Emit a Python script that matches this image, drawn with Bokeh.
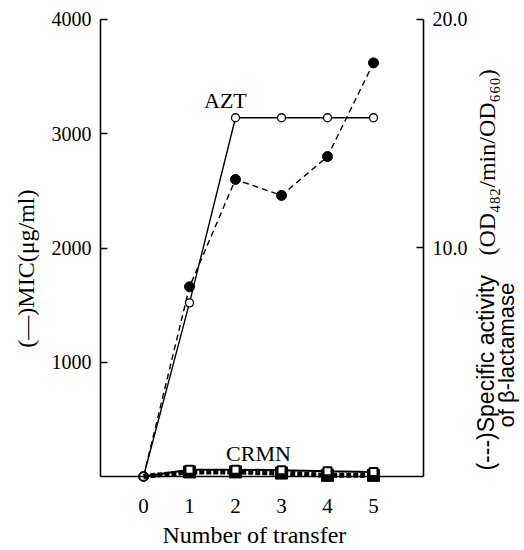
import math
from bokeh.plotting import figure
from bokeh.models import Range1d, LinearAxis, FixedTicker, Label, PrintfTickFormatter
from bokeh.embed import file_html
from bokeh.resources import INLINE

# ---- data ----
transfer = [0, 1, 2, 3, 4, 5]
azt_mic = [0, 1520, 3140, 3140, 3140, 3140]        # MIC (ug/ml), solid line, open circles
azt_act = [0, 8.3, 13.0, 12.3, 14.0, 18.1]          # specific activity, dashed, filled circles
crmn_mic = [0, 60, 60, 55, 45, 40]                   # MIC, open squares
crmn_act = [0, 0.2, 0.2, 0.15, 0.05, 0.05]           # activity, filled squares
left_ticks = [1000, 2000, 3000, 4000]
right_ticks = [10, 20]
x_ticks = [0, 1, 2, 3, 4, 5]

SERIF = "Liberation Serif"
SANS = "Liberation Sans"

# axis extents in data units
X_LEFT, X_RIGHT = -0.935, 6.087

p = figure(width=524, height=550,
           x_range=Range1d(-3.1087, 8.2826), y_range=Range1d(-647.7, 4166.3),
           output_backend="svg", toolbar_location=None,
           min_border_left=0, min_border_right=0, min_border_top=0, min_border_bottom=0)
p.extra_y_ranges = {"act": Range1d(-3.2385, 20.83)}
p.xgrid.visible = False
p.ygrid.visible = False
p.outline_line_color = None
p.background_fill_color = "white"
p.border_fill_color = "white"

# left axis
ya = p.yaxis[0]
ya.fixed_location = X_LEFT
ya.ticker = FixedTicker(ticks=left_ticks)
ya.bounds = (0, 4000)
ya.major_tick_in = 7
ya.major_tick_out = 0
ya.minor_tick_in = 0
ya.minor_tick_out = 0
ya.axis_line_width = 1.6
ya.major_tick_line_width = 1.6
ya.major_label_text_font = SERIF
ya.major_label_text_font_size = "20px"
ya.major_label_text_color = "black"
ya.major_label_standoff = 9

# right axis
ra = LinearAxis(y_range_name="act", ticker=FixedTicker(ticks=right_ticks),
                formatter=PrintfTickFormatter(format="%.1f"), bounds=(0, 20),
                fixed_location=X_RIGHT)
ra.major_tick_in = 7
ra.major_tick_out = 0
ra.minor_tick_in = 0
ra.minor_tick_out = 0
ra.axis_line_width = 1.6
ra.major_tick_line_width = 1.6
ra.major_label_text_font = SERIF
ra.major_label_text_font_size = "20px"
ra.major_label_text_color = "black"
ra.major_label_standoff = 9
p.add_layout(ra, "right")

# bottom axis
xa = p.xaxis[0]
xa.fixed_location = 0
xa.bounds = (X_LEFT, X_RIGHT)
xa.ticker = FixedTicker(ticks=x_ticks)
xa.major_tick_in = 0
xa.major_tick_out = 0
xa.minor_tick_in = 0
xa.minor_tick_out = 0
xa.axis_line_width = 1.6
xa.major_label_text_font = SERIF
xa.major_label_text_font_size = "21px"
xa.major_label_text_color = "black"
xa.major_label_standoff = 22

# AZT
p.line(transfer, azt_mic, line_color="black", line_width=1.4)
p.line(transfer, azt_act, y_range_name="act", line_color="black", line_width=1.4, line_dash="6 4")
p.scatter(transfer, azt_act, y_range_name="act", marker="circle", size=10,
          fill_color="black", line_color="black")
p.scatter(transfer, azt_mic, marker="circle", size=8, fill_color="white",
          line_color="black", line_width=1.3)

# CRMN
p.line(transfer, crmn_act, y_range_name="act", line_color="black", line_width=5, line_dash="5 2")
p.line(transfer, crmn_mic, line_color="black", line_width=2)
p.scatter(transfer[1:], crmn_act[1:], y_range_name="act", marker="square", size=12,
          fill_color="black", line_color="black")
p.scatter(transfer[1:], crmn_mic[1:], marker="square", size=8, fill_color="white",
          line_color="black", line_width=2)

# texts
p.add_layout(Label(x=1.78, y=3291, text="AZT", text_align="center", text_baseline="middle",
                   text_font=SERIF, text_font_size="22px", text_color="black"))
p.add_layout(Label(x=2.5, y=201, text="CRMN", text_align="center", text_baseline="middle",
                   text_font=SERIF, text_font_size="22px", text_color="black"))
p.add_layout(Label(x=2.41, y=-508, text="Number of transfer", text_align="center",
                   text_baseline="middle", text_font=SERIF, text_font_size="24px",
                   text_color="black"))
p.add_layout(Label(x=-2.565, y=1820, text="(—)MIC(μg/ml)", angle=math.pi / 2,
                   text_align="center", text_baseline="middle", text_font=SERIF,
                   text_font_size="24px", text_color="black"))
p.add_layout(Label(x=7.435, y=52, text="(---)Specific activity", angle=math.pi / 2,
                   text_align="left", text_baseline="middle", text_font=SANS,
                   text_font_size="23px", text_color="black"))
p.add_layout(Label(x=7.46, y=1934, text="(OD₄₈₂/min/OD₆₆₀)", angle=math.pi / 2,
                   text_align="left", text_baseline="middle", text_font=SERIF,
                   text_font_size="24px", text_color="black"))
p.add_layout(Label(x=7.891, y=429, text="of β-lactamase", angle=math.pi / 2,
                   text_align="left", text_baseline="middle", text_font=SANS,
                   text_font_size="22px", text_color="black"))

open("out.html", "w").write(file_html(p, INLINE))
